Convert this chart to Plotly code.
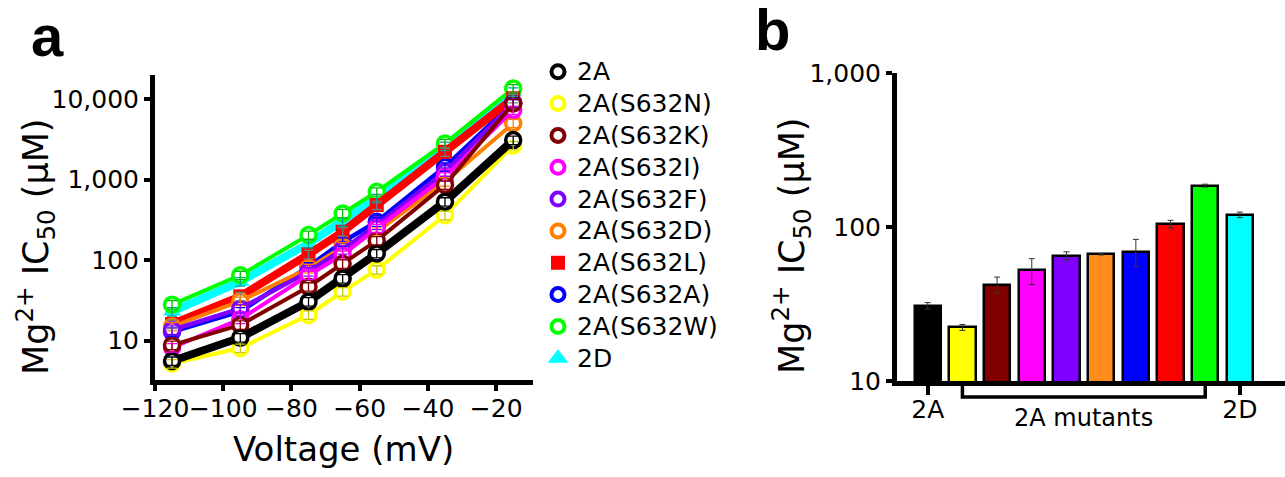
import plotly.graph_objects as go

# ---------------- data ----------------
voltages = [-115, -95, -75, -65, -55, -35, -15]

series_names = ["2A", "2A(S632N)", "2A(S632K)", "2A(S632I)", "2A(S632F)",
                "2A(S632D)", "2A(S632L)", "2A(S632A)", "2A(S632W)", "2D"]

ic50_2A    = [5.6, 10.9, 30.5, 59, 121, 531, 3090]
ic50_S632N = [5.2, 8.1, 20.9, 40.6, 76, 360, 2650]
ic50_S632K = [8.8, 15.7, 46.8, 90, 175, 860, 8800]
ic50_S632I = [8.2, 18.5, 65, 116, 248, 1080, 7300]
ic50_S632F = [13.6, 25, 72, 135, 272, 1250, 8800]
ic50_S632D = [15, 31, 79, 147, 225, 940, 5000]
ic50_S632L = [16.1, 35.5, 118, 225, 483, 2210, 10200]
ic50_S632A = [12.9, 23, 83, 169, 299, 1440, 9000]
ic50_S632W = [28, 65, 205, 380, 706, 2810, 13500]
ic50_2D    = [23, 54, 161, 299, 584, 2600, 12300]

bar_labels = ["2A", "2A(S632N)", "2A(S632K)", "2A(S632I)", "2A(S632F)",
              "2A(S632D)", "2A(S632A)", "2A(S632L)", "2A(S632W)", "2D"]
bar_values = [30.8, 22.3, 42.3, 52.3, 65, 66.3, 69.3, 104.5, 185.7, 120]
bar_errors = [1.5, 1.0, 5, 10, 4, 0.5, 13.8, 6, 4, 5]

y_tickvals = [10, 100, 1000, 10000]
y_ticktext = ["10", "100", "1,000", "10,000"]
x_tickvals = [-120, -100, -80, -60, -40, -20]

# ---------------- styles ----------------
FONT = "DejaVu Sans, sans-serif"
BOLD_FONT = "Liberation Sans, Arial, sans-serif"
colors = ["#000000", "#FFFF00", "#800000", "#FF00FF", "#8000FF",
          "#FF8000", "#FF0000", "#0000FF", "#00FF00", "#00FFFF"]
bar_colors = ["#000000", "#FFFF00", "#800000", "#FF00FF", "#8000FF",
              "#FF8C1A", "#0000FF", "#FF0000", "#00FF00", "#00FFFF"]
line_widths = [8, 4, 4, 4, 4.5, 4, 8, 4.5, 4, 8]
symbols = ["circle"] * 6 + ["square", "circle", "circle", "triangle-up"]
err_colors = ["#000000", "#C8C800", "#800000", "#FF00FF", "#8000FF",
              "#FF8000", "#6f7f80", "#0000FF", "#00C000", "#00A0A0"]

all_series = [ic50_2A, ic50_S632N, ic50_S632K, ic50_S632I, ic50_S632F,
              ic50_S632D, ic50_S632L, ic50_S632A, ic50_S632W, ic50_2D]

def marker_style(i, legend=False):
    s = symbols[i]
    if s == "circle":
        return dict(symbol=s, size=13 if legend else 15, color="white",
                    line=dict(color=colors[i], width=4 if legend else 3.5))
    if s == "square":
        return dict(symbol=s, size=14, color=colors[i], line=dict(width=0))
    return dict(symbol=s, size=18 if legend else 16, color=colors[i], line=dict(width=0))

fig = go.Figure()

# draw in reverse order so 2A ends up on top
order = list(range(len(series_names)))[::-1]
for i in order:
    fig.add_trace(go.Scatter(
        x=voltages, y=all_series[i], mode="lines+markers", name=series_names[i],
        line=dict(color=colors[i], width=line_widths[i]),
        marker=marker_style(i),
        showlegend=False, xaxis="x", yaxis="y", hoverinfo="skip"))
# error bars drawn on top of markers
for i in order:
    fig.add_trace(go.Scatter(
        x=voltages, y=all_series[i], mode="markers",
        marker=dict(size=1, color="rgba(0,0,0,0)"),
        error_y=dict(type="percent", value=12, color=err_colors[i],
                     thickness=1.3, width=5),
        showlegend=False, xaxis="x", yaxis="y", hoverinfo="skip"))

# legend (hidden helper axes: one row per series)
rows = list(range(len(series_names)))
for i in rows:
    fig.add_trace(go.Scatter(
        x=[0.0947], y=[rows[i]], mode="markers", marker=marker_style(i, legend=True),
        cliponaxis=False, showlegend=False, xaxis="x3", yaxis="y3", hoverinfo="skip"))

# panel b bars
fig.add_trace(go.Bar(
    x=list(range(len(bar_labels))), y=bar_values, width=0.76,
    marker=dict(color=bar_colors, line=dict(color="black", width=2.5)),
    error_y=dict(type="data", array=bar_errors, color="#333333", thickness=1, width=3),
    showlegend=False, xaxis="x2", yaxis="y2", hoverinfo="skip"))

W, H = 1285, 477
def px(x):
    return x / W
def py(y):
    return 1 - y / H

axis_common = dict(showline=True, linecolor="black", linewidth=5, ticks="outside",
                   tickcolor="black", tickwidth=4, ticklen=6, showgrid=False,
                   zeroline=False, tickangle=0,
                   tickfont=dict(family=FONT, size=25, color="black"))

mut_first, mut_last = 1, len(bar_labels) - 2

annotations = [
    dict(text="<b>a</b>", x=px(47), y=py(35), xref="paper", yref="paper",
         showarrow=False, font=dict(family=BOLD_FONT, size=58, color="black"),
         xanchor="center", yanchor="middle"),
    dict(text="<b>b</b>", x=px(772), y=py(30), xref="paper", yref="paper",
         showarrow=False, font=dict(family=BOLD_FONT, size=58, color="black"),
         xanchor="center", yanchor="middle"),
    dict(text="Mg<sup>2+</sup> IC<sub>50</sub> (μM)", x=px(35), y=py(247),
         xref="paper", yref="paper", showarrow=False, textangle=-90,
         font=dict(family=FONT, size=35, color="black"),
         xanchor="center", yanchor="middle"),
    dict(text="Mg<sup>2+</sup> IC<sub>50</sub> (μM)", x=px(791), y=py(246),
         xref="paper", yref="paper", showarrow=False, textangle=-90,
         font=dict(family=FONT, size=35, color="black"),
         xanchor="center", yanchor="middle"),
    dict(text="Voltage (mV)", x=px(343), y=py(449), xref="paper", yref="paper",
         showarrow=False, font=dict(family=FONT, size=34, color="black"),
         xanchor="center", yanchor="middle"),
    dict(text="2A mutants", x=(mut_first + mut_last) / 2, y=py(418), xref="x2", yref="paper",
         showarrow=False, font=dict(family=FONT, size=24, color="black"),
         xanchor="center", yanchor="middle"),
]
for i in rows:
    annotations.append(dict(text=series_names[i], x=0.184, y=rows[i], xref="x3", yref="y3",
                            showarrow=False, xanchor="left", yanchor="middle",
                            font=dict(family=FONT, size=25, color="black")))

fig.update_layout(
    width=W, height=H, margin=dict(l=0, r=0, t=0, b=0, autoexpand=False),
    paper_bgcolor="white", plot_bgcolor="white",
    font=dict(family=FONT, color="black"),
    showlegend=False,
    xaxis=dict(domain=[px(155), px(533)], range=[-120, -9.2],
               tickvals=x_tickvals, anchor="y", ticklabelstandoff=-4, **axis_common),
    yaxis=dict(domain=[py(380), py(75)], type="log", range=[0.512, 4.298],
               tickvals=y_tickvals, ticktext=y_ticktext, anchor="x", **axis_common),
    xaxis2=dict(domain=[px(897), 1.0], range=[-0.886, 10.3],
                tickvals=[0, len(bar_labels) - 1], ticktext=["2A", "2D"],
                anchor="y2", ticklabelstandoff=-7, **{**axis_common, "ticklen": 9}),
    yaxis2=dict(domain=[py(381), py(73)], type="log", range=[1, 3],
                tickvals=[10, 100, 1000], ticktext=["10", "100", "1,000"],
                anchor="x2", **axis_common),
    xaxis3=dict(domain=[px(540), px(730)], range=[0, 1], visible=False, anchor="y3"),
    yaxis3=dict(domain=[py(358.3), py(71.7)], range=[rows[-1], rows[0]], visible=False,
                anchor="x3"),
    bargap=0,
    shapes=[dict(type="path", xref="x2", yref="paper",
                 path=f"M {mut_first},{py(384)} L {mut_first},{py(397)} L {mut_last},{py(397)} L {mut_last},{py(384)}",
                 line=dict(color="black", width=3.5))],
    annotations=annotations,
)

fig.write_html("out.html", config={"displayModeBar": False},
               post_script="document.body.style.margin='0';document.body.style.overflow='hidden';")
